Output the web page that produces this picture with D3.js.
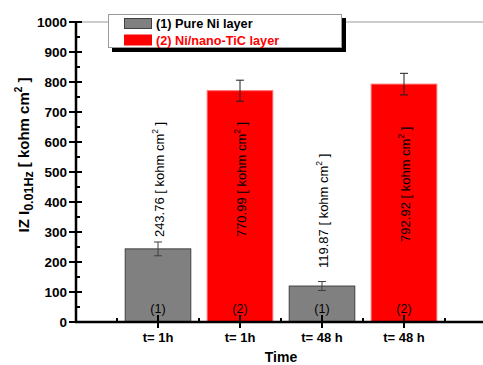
<!DOCTYPE html>
<html><head><meta charset="utf-8">
<script src="https://cdn.jsdelivr.net/npm/d3@7"></script>
<style>
body{margin:0;background:#fff;}
text{font-family:"Liberation Sans",Arial,sans-serif;}
</style></head>
<body><svg id="c" width="483" height="365"></svg>
<script>
const categories = ["t= 1h","t= 1h","t= 48 h","t= 48 h"];
const groups = ["(1)","(2)","(1)","(2)"];
const values = [243.76, 770.99, 119.87, 792.92];
const errors = [23, 35, 15, 36];
const valueLabels = ["243.76","770.99","119.87","792.92"];
const seriesNames = ["(1) Pure Ni layer","(2) Ni/nano-TiC layer"];
const yTicks = [0,100,200,300,400,500,600,700,800,900,1000];

const svg = d3.select("#c");
const x = d3.scaleLinear().domain([0,5]).range([76,486]);
const y = d3.scaleLinear().domain([0,1000]).range([322,22]);
const colors = {"(1)":"#808080","(2)":"#ff0000"};
const strokes = {"(1)":"#404040","(2)":"#ff6a6a"};
const errCol = {"(1)":"#404040","(2)":"#202020"};
const bw = (x(1)-x(0))*0.8;
// layout: where (in y units) each rotated value label starts
const labelStart = [283, 283, 180, 267];

// top frame
svg.append("line").attr("x1",x(0)).attr("x2",483).attr("y1",y(1000)).attr("y2",y(1000))
  .attr("stroke","#9a9a9a").attr("stroke-width",1);

// bars
const idx = d3.range(values.length);
svg.selectAll("rect.bar").data(idx).join("rect")
  .attr("x",i=>x(i+1)-bw/2).attr("width",bw)
  .attr("y",i=>y(values[i])).attr("height",i=>y(0)-y(values[i]))
  .attr("fill",i=>colors[groups[i]]).attr("stroke",i=>strokes[groups[i]]).attr("stroke-width",1);

// error bars
idx.forEach(i=>{
  const cx = x(i+1), c = errCol[groups[i]];
  const g = svg.append("g").attr("stroke",c).attr("stroke-width",1);
  g.append("line").attr("x1",cx).attr("x2",cx).attr("y1",y(values[i]+errors[i])).attr("y2",y(values[i]-errors[i]));
  [values[i]+errors[i], values[i]-errors[i]].forEach(v=>{
    g.append("line").attr("x1",cx-4).attr("x2",cx+4).attr("y1",y(v)).attr("y2",y(v));
  });
});

// value labels (rotated)
idx.forEach(i=>{
  const t = svg.append("text")
    .attr("transform",`translate(${x(i+1)+6},${y(labelStart[i])}) rotate(-90)`)
    .attr("font-size",13).attr("fill","#000");
  t.append("tspan").text(valueLabels[i]+" [ kohm cm");
  t.append("tspan").attr("font-size",8.5).attr("dy",-6).text("2");
  t.append("tspan").attr("dy",6).text(" ]");
});

// group labels
svg.selectAll("text.grp").data(idx).join("text")
  .attr("x",i=>x(i+1)).attr("y",313).attr("text-anchor","middle")
  .attr("font-size",12.5).text(i=>groups[i]);

// y axis
svg.append("line").attr("x1",x(0)).attr("x2",x(0)).attr("y1",y(0)+1).attr("y2",y(1000)-1)
  .attr("stroke","#000").attr("stroke-width",2.5);
yTicks.forEach(v=>{
  svg.append("line").attr("x1",x(0)-7).attr("x2",x(0)+6).attr("y1",y(v)).attr("y2",y(v))
    .attr("stroke","#000").attr("stroke-width",2);
  svg.append("text").attr("x",67).attr("y",y(v)+5).attr("text-anchor","end")
    .attr("font-size",13.5).attr("font-weight","bold").text(v);
});
d3.range(50,1000,100).forEach(v=>{
  svg.append("line").attr("x1",x(0)).attr("x2",x(0)+4).attr("y1",y(v)).attr("y2",y(v))
    .attr("stroke","#000").attr("stroke-width",2);
});

// x axis
svg.append("line").attr("x1",x(0)-1).attr("x2",483).attr("y1",y(0)).attr("y2",y(0))
  .attr("stroke","#000").attr("stroke-width",2.5);
idx.forEach(i=>{
  svg.append("line").attr("x1",x(i+1)).attr("x2",x(i+1)).attr("y1",y(0)-7).attr("y2",y(0)+6)
    .attr("stroke","#000").attr("stroke-width",2);
  svg.append("text").attr("x",x(i+1)).attr("y",342).attr("text-anchor","middle")
    .attr("font-size",13).attr("font-weight","bold").text(categories[i]);
});
[0.5,1.5,2.5,3.5,4.5].forEach(v=>{
  svg.append("line").attr("x1",x(v)).attr("x2",x(v)).attr("y1",y(0)-4).attr("y2",y(0))
    .attr("stroke","#000").attr("stroke-width",2);
});

// axis titles
svg.append("text").attr("x",281).attr("y",362).attr("text-anchor","middle")
  .attr("font-size",14).attr("font-weight","bold").text("Time");
const yt = svg.append("text").attr("transform","translate(29,155) rotate(-90)")
  .attr("text-anchor","middle").attr("font-size",15).attr("font-weight","bold");
yt.append("tspan").text("IZ I");
yt.append("tspan").attr("font-size",12.5).attr("dy",4).text("0.01Hz");
yt.append("tspan").attr("dy",-4).attr("dx",4).text("[ kohm cm");
yt.append("tspan").attr("font-size",10).attr("dy",-7).text("2");
yt.append("tspan").attr("dy",7).text(" ]");

// legend
svg.append("rect").attr("x",112).attr("y",18).attr("width",234).attr("height",34).attr("fill","#000");
svg.append("rect").attr("x",108.5).attr("y",14.5).attr("width",233).attr("height",33)
  .attr("fill","#fff").attr("stroke","#9a9a9a").attr("stroke-width",1);
seriesNames.forEach((n,i)=>{
  const g = i===0?"(1)":"(2)";
  svg.append("rect").attr("x",124.5).attr("y",18.5+i*16.5).attr("width",27).attr("height",10)
    .attr("fill",colors[g]).attr("stroke",i===0?"#404040":"#ff0000").attr("stroke-width",1);
  svg.append("text").attr("x",156).attr("y",28+i*16.5).attr("font-size",12.7).attr("font-weight","bold")
    .attr("fill",i===0?"#000":"#ff0000").text(n);
});
</script></body></html>
